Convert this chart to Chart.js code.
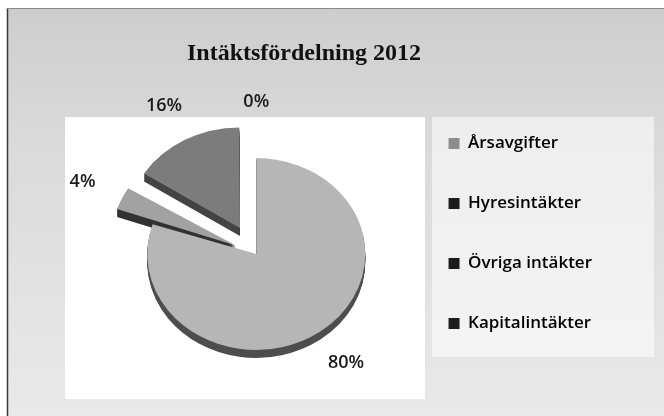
<!DOCTYPE html>
<html>
<head>
<meta charset="utf-8">
<script src="https://cdn.jsdelivr.net/npm/chart.js@4"></script>
<style>
  html, body { margin: 0; padding: 0; background: #fff; }
  #wrap { width: 664px; height: 416px; }
</style>
</head>
<body>
<div id="wrap"><canvas id="pieChart" width="664" height="416"></canvas></div>
<script>
// =========================
// DATA
// =========================
const chartTitle = "Intäktsfördelning 2012";
const categories = ["Årsavgifter", "Hyresintäkter", "Övriga intäkter", "Kapitalintäkter"];
const shares = [80, 4, 16, 0];

// colours: top face, 3d side, legend box
const topColors = ["#b6b6b6", "#a2a2a2", "#7c7c7c", "#3a3a3a"];
const sideColors = ["#4e4e4e", "#333333", "#444444", "#222222"];
const legendColors = ["#8c8c8c", "#1c1c1c", "#1c1c1c", "#1c1c1c"];

const squish = 0.88;   // pie seen at an angle
const depth = 8;       // height of the pie side

// how far an arc is really pushed out (same rule as ArcElement.draw)
function pushOut(arc) {
  const off = (arc.options.offset || 0) / 4;
  const circ = arc.endAngle - arc.startAngle;
  return off * (2 - Math.sin(Math.min(Math.PI, circ)));
}

// =========================
// BACKGROUND + TITLE
// =========================
const backdrop = {
  id: "backdrop",
  beforeDraw(chart) {
    const c = chart.ctx;
    const w = chart.width, h = chart.height;
    c.save();
    c.fillStyle = "#ffffff";
    c.fillRect(0, 0, w, h);

    const g = c.createLinearGradient(0, 8, 0, h);
    g.addColorStop(0, "#cdcdcd");
    g.addColorStop(0.3, "#d9d9d9");
    g.addColorStop(1, "#e9e9e9");
    c.fillStyle = g;
    c.fillRect(8, 8, w - 8, h - 8);

    // plot area and legend area
    c.fillStyle = "#ffffff";
    c.fillRect(65, 117, 360, 282);
    c.fillStyle = "rgba(255,255,255,0.55)";
    c.fillRect(432, 117, 222, 240);

    // frame
    c.strokeStyle = "#3a3a3a";
    c.lineWidth = 1.5;
    c.beginPath();
    c.moveTo(7.5, h);
    c.lineTo(7.5, 8);
    c.stroke();
    c.strokeStyle = "#8a8a8a";
    c.lineWidth = 1;
    c.beginPath();
    c.moveTo(7, 8.5);
    c.lineTo(w, 8.5);
    c.stroke();

    c.fillStyle = "#111111";
    c.font = "bold 24px 'Liberation Serif'";
    c.textAlign = "center";
    c.textBaseline = "alphabetic";
    c.fillText(chartTitle, 304, 60);
    c.restore();
  }
};

// =========================
// 3D LOOK
// =========================
const tilt = {
  id: "tilt",
  beforeDatasetsDraw(chart) {
    const c = chart.ctx;
    const meta = chart.getDatasetMeta(0);
    const cx = meta.data[0].x, cy = meta.data[0].y;
    c.save();
    c.translate(cx, cy);
    c.scale(1, squish);
    c.translate(-cx, -cy);

    // side of the pie: darker copies pushed down
    for (let d = depth; d > 0; d--) {
      c.save();
      c.translate(0, d / squish);
      meta.data.forEach((arc, i) => {
        const keep = arc.options.backgroundColor;
        arc.options.backgroundColor = sideColors[i];
        arc.draw(c);
        arc.options.backgroundColor = keep;
      });
      c.restore();
    }
  },
  afterDatasetsDraw(chart) {
    chart.ctx.restore();
  }
};

// =========================
// PERCENT LABELS
// =========================
const percentLabels = {
  id: "percentLabels",
  afterDatasetsDraw(chart) {
    const c = chart.ctx;
    const meta = chart.getDatasetMeta(0);
    c.save();
    c.fillStyle = "#1a1a1a";
    c.font = "600 18px 'Open Sans'";
    c.textAlign = "center";
    c.textBaseline = "middle";
    meta.data.forEach((arc, i) => {
      const mid = (arc.startAngle + arc.endAngle) / 2;
      const r = arc.outerRadius * 1.4 + pushOut(arc);
      const x = arc.x + Math.cos(mid) * r;
      const y = arc.y + Math.sin(mid) * r * squish;
      c.fillText(shares[i] + "%", x, y);
    });
    c.restore();
  }
};

// =========================
// CHART
// =========================
const ctx = document.getElementById("pieChart").getContext("2d");

new Chart(ctx, {
  type: "pie",
  data: {
    labels: categories,
    datasets: [
      {
        data: shares,
        backgroundColor: topColors,
        borderWidth: 0,
        offset: [0, 90, 135, 40]
      }
    ]
  },
  options: {
    responsive: false,
    animation: false,
    radius: 109,
    layout: {
      padding: { left: 107, right: 62, top: 92, bottom: 0 }
    },
    plugins: {
      title: { display: false },
      tooltip: { enabled: false },
      legend: {
        position: "right",
        align: "start",
        labels: {
          color: "#111111",
          font: { family: "'Open Sans'", size: 17, weight: "600" },
          boxWidth: 11,
          boxHeight: 11,
          padding: 43,
          generateLabels: (chart) =>
            categories.map((name, i) => ({
              text: name,
              fillStyle: legendColors[i],
              strokeStyle: legendColors[i],
              lineWidth: 0,
              index: i
            }))
        }
      }
    }
  },
  plugins: [backdrop, tilt, percentLabels]
});
</script>
</body>
</html>
